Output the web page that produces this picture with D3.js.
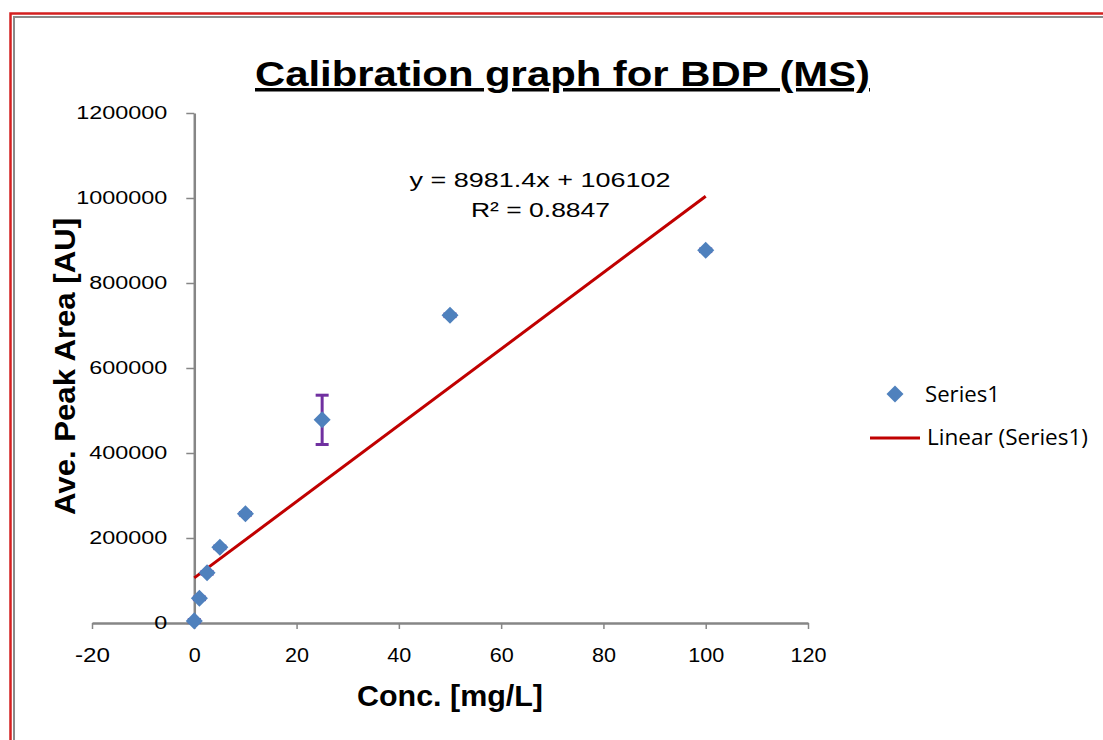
<!DOCTYPE html>
<html><head><meta charset="utf-8">
<script src="https://cdnjs.cloudflare.com/ajax/libs/d3/7.8.5/d3.min.js"></script>
<style>body{margin:0;background:#fff}svg{display:block}</style>
</head><body>
<script>
const concentrations = [0, 1, 2.5, 5, 10, 25, 50, 100];
const peakAreas = [5000, 58000, 118000, 178000, 257000, 478000, 724000, 877000];
const errors = [3000, 3000, 3000, 3000, 3000, 58000, 3000, 3000];
const xTicks = [-20, 0, 20, 40, 60, 80, 100, 120];
const yTicks = [0, 200000, 400000, 600000, 800000, 1000000, 1200000];
const slope = 8981.4, intercept = 106102, r2 = 0.8847;
const trendRange = [0, 100];

const W = 1103, H = 740;
const svg = d3.select("body").append("svg").attr("width", W).attr("height", H);
svg.append("rect").attr("width",W).attr("height",H).attr("fill","#fff");
svg.append("path").attr("d",`M10.5,${H} V13.5 H${W}`).attr("fill","none").attr("stroke","#d42020").attr("stroke-width",2.5);
svg.append("path").attr("d",`M14,${H} V17 H${W}`).attr("fill","none").attr("stroke","#8a8a8a").attr("stroke-width",2);

const x = d3.scaleLinear().domain([-20,120]).range([92,808]);
const y = d3.scaleLinear().domain([0,1200000]).range([623,113]);
const axisColor = "#868686";
const font = "'Liberation Sans', Arial, sans-serif";

const xa = svg.append("g").attr("transform",`translate(0,${y(0)})`)
  .call(d3.axisBottom(x).tickValues(xTicks).tickSize(6).tickSizeOuter(0).tickPadding(26).tickFormat(d=>String(d)));
xa.select(".domain").attr("stroke",axisColor).attr("stroke-width",2.5);
xa.selectAll(".tick line").attr("stroke",axisColor).attr("stroke-width",1.5);
xa.selectAll(".tick text").attr("font-family",font).attr("font-size",21).attr("fill","#000")
  .attr("dy","0.35em")
  .attr("textLength", d => { const s = String(d); return s.replace("-","").length*12 + (s.includes("-")?11:0); })
  .attr("lengthAdjust","spacingAndGlyphs");

const ya = svg.append("g").attr("transform",`translate(${x(0)},0)`)
  .call(d3.axisLeft(y).tickValues(yTicks).tickSize(8).tickSizeOuter(0).tickPadding(19).tickFormat(d3.format("d")));
ya.select(".domain").attr("stroke",axisColor).attr("stroke-width",2.5);
ya.selectAll(".tick line").attr("stroke",axisColor).attr("stroke-width",1.5);
ya.selectAll(".tick text").attr("font-family",font).attr("font-size",18).attr("fill","#000")
  .attr("textLength", d => String(d).length*13).attr("lengthAdjust","spacingAndGlyphs");

const trend = trendRange.map(v=>[v, slope*v+intercept]);
svg.append("path").datum(trend)
  .attr("d", d3.line().x(d=>x(d[0])).y(d=>y(d[1])))
  .attr("stroke","#c00000").attr("stroke-width",3).attr("fill","none");

const eb = svg.append("g").attr("stroke","#7030a0").attr("stroke-width",3);
concentrations.forEach((c,i)=>{
  const cx = x(c), y1 = y(peakAreas[i]+errors[i]), y2 = y(peakAreas[i]-errors[i]);
  eb.append("line").attr("x1",cx).attr("x2",cx).attr("y1",y1).attr("y2",y2);
  eb.append("line").attr("x1",cx-6.5).attr("x2",cx+6.5).attr("y1",y1).attr("y2",y1);
  eb.append("line").attr("x1",cx-6.5).attr("x2",cx+6.5).attr("y1",y2).attr("y2",y2);
});

const diamond = d3.symbol().type(d3.symbolDiamond2).size(185);
svg.append("g").selectAll("path").data(concentrations).join("path")
  .attr("d", diamond)
  .attr("transform",(c,i)=>`translate(${x(c)},${y(peakAreas[i])})`)
  .attr("fill","#4f81bd");

function txt(xp, yp, s, size, len, opts={}) {
  const t = svg.append("text").attr("x",xp).attr("y",yp).attr("text-anchor",opts.anchor||"middle")
    .attr("font-family",opts.family||font).attr("font-size",size)
    .attr("textLength",len).attr("lengthAdjust","spacingAndGlyphs").text(s);
  if (opts.bold) t.attr("font-weight","bold");
  return t;
}
txt(562.5, 86, "Calibration graph for BDP (MS)", 35, 615, {bold:true}).attr("text-decoration","underline");
txt(450, 706, "Conc. [mg/L]", 29, 186, {bold:true});
txt(0, 0, "Ave. Peak Area [AU]", 30, 297, {bold:true}).attr("transform","translate(75,366.5) rotate(-90)");
txt(540, 187, `y = ${slope}x + ${intercept}`, 20, 261);
txt(540.5, 217, `R² = ${r2}`, 20, 139);

svg.append("path").attr("d",diamond).attr("transform","translate(895,394)").attr("fill","#4f81bd");
txt(925, 402, "Series1", 22, 75, {anchor:"start", family:"'Open Sans', sans-serif"});
svg.append("line").attr("x1",870).attr("x2",920).attr("y1",438).attr("y2",438).attr("stroke","#c00000").attr("stroke-width",3);
txt(927, 445, "Linear (Series1)", 22, 161, {anchor:"start", family:"'Open Sans', sans-serif"});
</script>
</body></html>
